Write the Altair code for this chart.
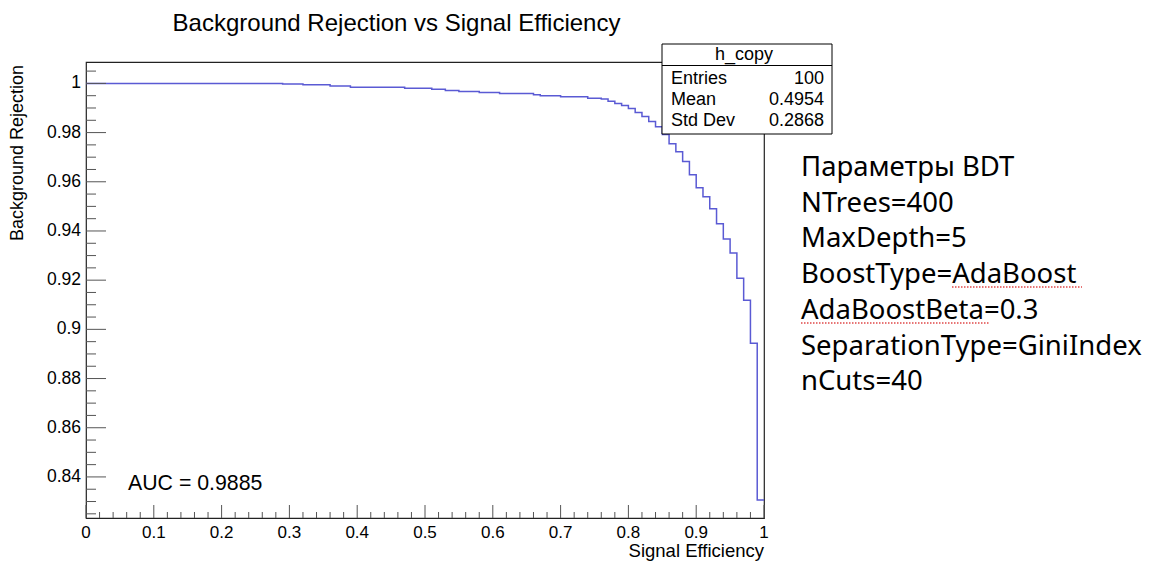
import altair as alt
import pandas as pd

# ROC curve stored as a histogram: 100 bins of width 0.01 in signal efficiency
bin_low = [round(i * 0.01, 2) for i in range(100)]
rejection = (
    [1.0] * 29
    + [0.9998] * 3
    + [0.9995] * 4
    + [0.9989] * 3
    + [0.9984] * 8
    + [0.9980] * 4
    + [0.9976] * 2
    + [0.9971] * 2
    + [0.9967] * 3
    + [0.9963] * 3
    + [0.9959] * 5
    + [0.9954]
    + [0.9950] * 3
    + [0.9946] * 4
    + [0.9940] * 2
    + [0.9937, 0.9927, 0.9918, 0.9910, 0.9898, 0.9882, 0.9865, 0.9845,
       0.9824, 0.9792, 0.9755, 0.9722, 0.9682, 0.9629, 0.9576, 0.9539,
       0.9490, 0.9429, 0.9367, 0.9310, 0.9208, 0.9118, 0.8943, 0.8306]
)

x_major = [0, 0.1, 0.2, 0.3, 0.4, 0.5, 0.6, 0.7, 0.8, 0.9, 1]
x_labels = ["0", "0.1", "0.2", "0.3", "0.4", "0.5", "0.6", "0.7", "0.8", "0.9", "1"]
x_minor = [round(i * 0.02, 2) for i in range(51) if i % 5 != 0]
y_major = [0.84, 0.86, 0.88, 0.9, 0.92, 0.94, 0.96, 0.98, 1]
y_labels = ["0.84", "0.86", "0.88", "0.9", "0.92", "0.94", "0.96", "0.98", "1"]
y_minor = [round(0.825 + i * 0.005, 3) for i in range(37) if i % 4 != 3]

plot_title = "Background Rejection vs Signal Efficiency"
x_title = "Signal Efficiency"
y_title = "Background Rejection"
stats_title = "h_copy"
stats_labels = ["Entries", "Mean", "Std Dev"]
stats_values = ["100", "0.4954", "0.2868"]
auc_text = "AUC = 0.9885"
param_lines = [
    "Параметры BDT",
    "NTrees=400",
    "MaxDepth=5",
    "BoostType=AdaBoost",
    "AdaBoostBeta=0.3",
    "SeparationType=GiniIndex",
    "nCuts=40",
]

W, H = 678, 456
FONT = "Liberation Sans"
BLUE = "#5a5ad4"
TICK = "#555555"

# step curve: one point per bin edge, last bin closed at efficiency 1
roc = pd.DataFrame({"eff": bin_low + [1.0], "rej": rejection + [rejection[-1]]})

xscale = alt.Scale(domain=[0, 1], nice=False, zero=False)
yscale = alt.Scale(domain=[0.8233, 1.0087], nice=False, zero=False)

curve = alt.Chart(roc).mark_line(
    interpolate="step-after", color=BLUE, strokeWidth=1.5
).encode(
    x=alt.X("eff:Q", scale=xscale, axis=None),
    y=alt.Y("rej:Q", scale=yscale, axis=None),
)


# ROOT-style ticks pointing into the frame
def x_ticks(vals, length):
    return alt.Chart(pd.DataFrame({"v": vals})).mark_rule(
        color=TICK, strokeWidth=1
    ).encode(
        x=alt.X("v:Q", scale=xscale, axis=None),
        y=alt.value(H), y2=alt.value(H - length),
    )


def y_ticks(vals, length):
    return alt.Chart(pd.DataFrame({"v": vals})).mark_rule(
        color=TICK, strokeWidth=1
    ).encode(
        y=alt.Y("v:Q", scale=yscale, axis=None),
        x=alt.value(0), x2=alt.value(length),
    )


x_tick_labels = alt.Chart(pd.DataFrame({"v": x_major, "lab": x_labels})).mark_text(
    font=FONT, fontSize=17, align="center", baseline="top", color="black"
).encode(
    x=alt.X("v:Q", scale=xscale, axis=None), y=alt.value(H + 7), text="lab:N"
)
y_tick_labels = alt.Chart(pd.DataFrame({"v": y_major, "lab": y_labels})).mark_text(
    font=FONT, fontSize=17.5, align="right", baseline="middle", color="black"
).encode(
    y=alt.Y("v:Q", scale=yscale, axis=None), x=alt.value(-5), text="lab:N"
)


def label(text, x, y, size, align="left", baseline="middle", font=FONT, angle=0):
    return alt.Chart(pd.DataFrame({"t": [text]})).mark_text(
        font=font, fontSize=size, align=align, baseline=baseline,
        color="black", angle=angle
    ).encode(x=alt.value(x), y=alt.value(y), text="t:N")


one = pd.DataFrame({"t": [""]})

title = label(plot_title, 310.5, -31, 24, align="center", baseline="alphabetic")
xt = label(x_title, W, H + 39, 18.5, align="right", baseline="alphabetic")
yt = label(y_title, -68, 3, 18, align="right", baseline="middle", angle=270)
auc = label(auc_text, 42, 422, 21.3)

# statistics box
box_l, box_r, box_t, box_b, sep_y = 576, 746, -18, 72, 3.5
stats_box = alt.Chart(one).mark_rect(
    fill="white", stroke="black", strokeWidth=1
).encode(x=alt.value(box_l), x2=alt.value(box_r), y=alt.value(box_t), y2=alt.value(box_b))
stats_sep = alt.Chart(one).mark_rule(color="black", strokeWidth=1).encode(
    x=alt.value(box_l), x2=alt.value(box_r), y=alt.value(sep_y)
)
stats_layers = [stats_box, stats_sep,
                label(stats_title, (box_l + box_r) / 2 - 3, -7, 18, align="center")]
for i, (lab, val) in enumerate(zip(stats_labels, stats_values)):
    yy = 17 + 21 * i
    stats_layers.append(label(lab, box_l + 9, yy, 18))
    stats_layers.append(label(val, box_r - 8, yy, 18, align="right"))

# parameter list to the right of the frame
param_layers = [
    label(line, 715, 114 + 35.7 * i, 27.5, baseline="alphabetic", font="Noto Sans")
    for i, line in enumerate(param_lines)
]


# spell-check underlines under the two AdaBoost words
def squiggle(x0, x1, y):
    return alt.Chart(one).mark_rule(
        color="#e04848", strokeWidth=1.6, strokeDash=[1.5, 1.5]
    ).encode(x=alt.value(x0), x2=alt.value(x1), y=alt.value(y))


chart = alt.layer(
    curve,
    x_ticks(x_major, 13), x_ticks(x_minor, 6),
    y_ticks(y_major, 20), y_ticks(y_minor, 10),
    x_tick_labels, y_tick_labels, xt, yt,
    title, auc,
    *stats_layers,
    *param_layers,
    squiggle(866, 996, 225), squiggle(715, 904, 261),
).properties(
    width=W, height=H,
    autosize=alt.AutoSizeParams(type="none"),
    padding={"left": 86, "top": 62, "right": 1149 - 86 - W, "bottom": 562 - 62 - H},
    background="white",
).configure_view(stroke="#222222", strokeWidth=1.2)

chart.save("out.html", embed_options={"renderer": "svg", "actions": False})
